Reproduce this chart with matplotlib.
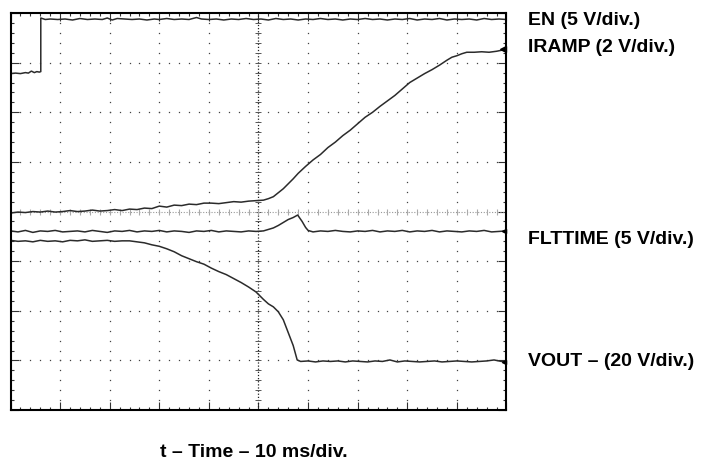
import numpy as np
import matplotlib
matplotlib.use('Agg')
import matplotlib.pyplot as plt

# Scope traces, time in ms (10 ms/div), level in divisions from bottom (8 div tall)
EN_PTS = [(0.0, 6.78), (1.0, 6.79), (2.0, 6.78), (3.0, 6.80), (3.6, 6.79), (4.2, 6.83),
          (4.8, 6.80), (5.3, 6.82), (5.8, 6.81), (6.1, 6.82), (6.1, 7.90), (7.0, 7.87),
          (8.0, 7.88), (9.5, 7.87), (11.0, 7.88), (12.5, 7.86), (14.0, 7.89), (15.5, 7.87),
          (17.0, 7.88), (18.5, 7.87), (19.5, 7.90), (20.5, 7.86), (21.5, 7.89), (23.0, 7.88),
          (24.5, 7.87), (26.0, 7.88), (27.5, 7.86), (29.0, 7.88), (30.0, 7.87), (31.5, 7.89),
          (33.0, 7.87), (34.5, 7.88), (36.0, 7.87), (37.5, 7.91), (38.5, 7.88), (40.0, 7.87),
          (41.5, 7.88), (43.0, 7.86), (44.5, 7.88), (46.0, 7.87), (47.5, 7.89), (49.0, 7.87),
          (50.5, 7.88), (52.0, 7.86), (53.5, 7.89), (55.0, 7.87), (56.5, 7.88), (58.0, 7.86),
          (59.5, 7.88), (61.0, 7.87), (62.5, 7.89), (64.0, 7.87), (65.5, 7.88), (67.0, 7.86),
          (68.5, 7.88), (70.0, 7.87), (71.5, 7.89), (73.0, 7.87), (74.5, 7.88), (76.0, 7.86),
          (77.5, 7.88), (79.0, 7.87), (80.5, 7.89), (82.0, 7.86), (83.5, 7.88), (85.0, 7.87),
          (86.5, 7.89), (88.0, 7.86), (89.5, 7.88), (91.0, 7.87), (92.5, 7.88), (94.0, 7.86),
          (95.5, 7.89), (97.0, 7.87), (98.5, 7.88), (100.0, 7.87)]

IRAMP_PTS = [(0.0, 3.97), (1.5, 3.99), (3.0, 3.98), (4.5, 4.00), (6.0, 3.99), (7.5, 4.01),
             (9.0, 3.99), (10.5, 4.00), (12.0, 4.02), (13.5, 4.00), (15.0, 4.01), (16.5, 4.03),
             (18.0, 4.01), (19.5, 4.02), (21.0, 4.04), (22.5, 4.02), (24.0, 4.05), (25.5, 4.04),
             (27.0, 4.07), (28.5, 4.06), (30.0, 4.11), (31.5, 4.09), (33.0, 4.13), (34.5, 4.12),
             (36.0, 4.15), (37.5, 4.14), (39.0, 4.17), (40.5, 4.17), (42.0, 4.16), (43.5, 4.18),
             (45.0, 4.20), (46.5, 4.19), (48.0, 4.21), (49.5, 4.22), (51.0, 4.23), (52.0, 4.26),
             (53.0, 4.30), (54.0, 4.38), (55.0, 4.46), (56.0, 4.56), (57.0, 4.66), (58.0, 4.77),
             (59.5, 4.91), (61.0, 5.04), (62.5, 5.15), (64.0, 5.29), (65.5, 5.40), (67.0, 5.53),
             (68.5, 5.64), (70.0, 5.77), (71.5, 5.90), (73.0, 6.00), (74.5, 6.12), (76.0, 6.23),
             (77.5, 6.34), (79.0, 6.47), (80.5, 6.60), (82.0, 6.69), (83.5, 6.78), (85.0, 6.86),
             (86.5, 6.95), (88.0, 7.05), (89.0, 7.11), (90.0, 7.14), (91.0, 7.18), (92.0, 7.21),
             (93.5, 7.21), (95.0, 7.22), (96.5, 7.21), (98.0, 7.23), (99.0, 7.25), (100.0, 7.27)]

FLTTIME_PTS = [(0.0, 3.61), (1.5, 3.59), (3.0, 3.62), (4.5, 3.58), (6.0, 3.61), (7.5, 3.60),
               (9.0, 3.62), (10.5, 3.59), (12.0, 3.60), (13.5, 3.61), (15.0, 3.59), (16.5, 3.62),
               (18.0, 3.60), (19.5, 3.58), (21.0, 3.61), (22.5, 3.60), (24.0, 3.62), (25.5, 3.59),
               (27.0, 3.61), (28.5, 3.60), (30.0, 3.62), (31.5, 3.59), (33.0, 3.61), (34.5, 3.60),
               (36.0, 3.58), (37.5, 3.61), (39.0, 3.60), (40.5, 3.62), (42.0, 3.59), (43.5, 3.61),
               (45.0, 3.60), (46.5, 3.59), (48.0, 3.61), (49.5, 3.60), (51.0, 3.61), (52.0, 3.64),
               (53.0, 3.67), (54.0, 3.72), (55.0, 3.78), (56.0, 3.84), (57.0, 3.88), (57.9, 3.93),
               (58.8, 3.80), (59.5, 3.68), (60.0, 3.62), (61.0, 3.59), (62.5, 3.61), (64.0, 3.60),
               (65.5, 3.62), (67.0, 3.60), (68.5, 3.59), (70.0, 3.61), (71.5, 3.60), (73.0, 3.62),
               (74.5, 3.59), (76.0, 3.61), (77.5, 3.60), (79.0, 3.62), (80.5, 3.59), (82.0, 3.61),
               (83.5, 3.60), (85.0, 3.62), (86.5, 3.59), (88.0, 3.61), (89.5, 3.60), (91.0, 3.59),
               (92.5, 3.61), (94.0, 3.60), (95.5, 3.62), (97.0, 3.59), (98.5, 3.60), (100.0, 3.61)]

VOUT_PTS = [(0.0, 3.42), (1.5, 3.40), (3.0, 3.41), (4.5, 3.39), (6.0, 3.42), (7.5, 3.40),
            (9.0, 3.41), (10.5, 3.39), (12.0, 3.42), (13.5, 3.41), (15.0, 3.43), (16.5, 3.40),
            (18.0, 3.41), (19.5, 3.42), (21.0, 3.40), (22.5, 3.41), (24.0, 3.41), (25.5, 3.39),
            (27.0, 3.37), (28.5, 3.33), (30.0, 3.30), (31.5, 3.25), (33.0, 3.19), (34.5, 3.11),
            (36.0, 3.05), (37.5, 2.99), (39.0, 2.94), (40.5, 2.86), (42.0, 2.79), (43.5, 2.73),
            (45.0, 2.65), (46.5, 2.57), (48.0, 2.48), (49.5, 2.38), (51.0, 2.23), (52.0, 2.14),
            (53.0, 2.08), (54.0, 1.98), (55.0, 1.82), (56.0, 1.56), (57.0, 1.30), (57.8, 1.01),
            (58.5, 0.98), (60.0, 0.99), (61.5, 0.97), (63.0, 0.99), (64.5, 0.98), (66.0, 0.99),
            (67.5, 0.97), (69.0, 0.99), (70.5, 0.98), (72.0, 0.97), (73.5, 0.99), (75.0, 0.98),
            (76.5, 1.01), (78.0, 0.97), (79.5, 0.99), (81.0, 0.98), (82.5, 0.97), (84.0, 0.98),
            (85.5, 0.99), (87.0, 0.97), (88.5, 0.98), (90.0, 0.99), (91.5, 0.98), (93.0, 0.97),
            (94.5, 0.98), (96.0, 0.99), (97.5, 1.01), (99.0, 0.98), (100.0, 0.97)]

CHANNEL_LABELS = ['EN (5 V/div.)', 'IRAMP (2 V/div.)', 'FLTTIME (5 V/div.)', 'VOUT \u2013 (20 V/div.)']
X_LABEL = 't \u2013 Time \u2013 10 ms/div.'

TRACE = '#2b2b2b'
GRID = '#444444'

fig = plt.figure(figsize=(7.12, 4.66), dpi=100)
ax = fig.add_axes([0.0148, 0.120, 0.6965, 0.852])
ax.set_xlim(0, 100)
ax.set_ylim(0, 8)

# dotted scope graticule
ydots = np.arange(0, 8.01, 0.2)
xdots = np.arange(0, 100.01, 2)
for gx in range(10, 100, 10):
    if gx != 50:
        ax.plot(np.full_like(ydots, gx), ydots, ls='none', marker='s', ms=0.9, mew=0, color=GRID)
for gy in range(1, 8):
    if gy != 4:
        ax.plot(xdots, np.full_like(xdots, gy), ls='none', marker='s', ms=0.9, mew=0, color=GRID)

# centre cross with small tick marks
ax.plot([50, 50], [0, 8], ls=(0, (1, 1.5)), lw=0.9, color='#222222')
ax.plot(np.full_like(ydots, 50), ydots, ls='none', marker='_', ms=4, mew=0.7, color='#555555')
ax.plot([0, 100], [4, 4], ls=(0, (1, 1.5)), lw=0.8, color='#999999')
ax.plot(xdots, np.full_like(xdots, 4), ls='none', marker='|', ms=5, mew=0.8, color='#aaaaaa')

# traces
for pts in [EN_PTS, IRAMP_PTS, FLTTIME_PTS, VOUT_PTS]:
    t, v = zip(*pts)
    ax.plot(t, v, color=TRACE, lw=1.1)

# channel markers at the right edge
ax.plot([99.3], [IRAMP_PTS[-1][1]], marker='<', ms=5, color='black', clip_on=False)
ax.plot([99.6], [FLTTIME_PTS[-1][1]], marker='<', ms=3, color='black', clip_on=False)
ax.plot([99.6], [VOUT_PTS[-1][1]], marker='<', ms=3, color='black', clip_on=False)

# border ticks
ax.set_xticks(np.arange(0, 101, 10))
ax.set_yticks(np.arange(0, 8.1, 1))
ax.set_xticks(np.arange(0, 101, 2), minor=True)
ax.set_yticks(np.arange(0, 8.01, 0.2), minor=True)
ax.tick_params(which='both', direction='in', top=True, right=True,
               labelbottom=False, labelleft=False, color='#333333', width=0.8)
ax.tick_params(which='major', length=6)
ax.tick_params(which='minor', length=2.5)
for s in ax.spines.values():
    s.set_linewidth(1.5)
    s.set_color('black')

font = dict(family=['Liberation Sans', 'DejaVu Sans'], weight='bold', size=14)
label_y = [0.957, 0.897, 0.485, 0.225]
for txt, y in zip(CHANNEL_LABELS, label_y):
    fig.text(0.742, y, txt, va='center', ha='left', **font)
fig.text(0.357, 0.028, X_LABEL, va='center', ha='center', **font)

fig.savefig('out.png', dpi=100)
